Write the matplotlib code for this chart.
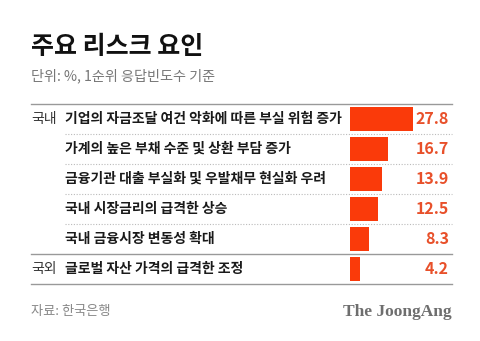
import matplotlib.pyplot as plt
import matplotlib.transforms as mtransforms

plt.rcParams['font.family'] = ['Noto Sans CJK KR', 'DejaVu Sans']

# 데이터
groups = ['국내', '', '', '', '', '국외']
labels = [
    '기업의 자금조달 여건 악화에 따른 부실 위험 증가',
    '가계의 높은 부채 수준 및 상환 부담 증가',
    '금융기관 대출 부실화 및 우발채무 현실화 우려',
    '국내 시장금리의 급격한 상승',
    '국내 금융시장 변동성 확대',
    '글로벌 자산 가격의 급격한 조정',
]
values = [27.8, 16.7, 13.9, 12.5, 8.3, 4.2]

W, H = 480, 341
fig = plt.figure(figsize=(W / 100, H / 100), dpi=100)
fig.patch.set_facecolor('white')

# 막대 영역 (x=350px ~ 452px, y=104px ~ 284px)
ax = fig.add_axes([350 / W, (H - 284) / H, (452 - 350) / W, 180 / H])
ax.set_xlim(0, (452 - 350) / 2.27)
ax.set_ylim(len(values) - 0.5, -0.5)
ax.axis('off')

rows = range(len(values))
ax.barh(rows, values, height=0.8, color='#fa3a0a', zorder=3)

# 행 텍스트
tr = mtransforms.blended_transform_factory(fig.transFigure, ax.transData)
for i, (g, lab, v) in enumerate(zip(groups, labels, values)):
    if g:
        ax.text(31 / W, i, g, transform=tr, ha='left', va='center',
                fontsize=10, color='#333333')
    ax.text(65 / W, i, lab, transform=tr, ha='left', va='center',
            fontsize=10, fontweight='bold', color='#1a1a1a')
    ax.text(449 / W, i, f'{v}', transform=tr, ha='right', va='center',
            fontsize=11.5, fontweight='bold', color='#e8502a')

# 구분선
def hline(y, x0=31, **kw):
    ax.plot([x0 / W, 452 / W], [y, y], transform=tr, clip_on=False, **kw)

hline(-0.5, color='#999999', lw=1)
for y in [0.5, 1.5, 2.5, 3.5]:
    hline(y, x0=65, color='#bbbbbb', lw=0.8, ls=(0, (1, 1.5)))
hline(4.5, color='#999999', lw=1)
hline(5.5, color='#999999', lw=1)

# 제목
fig.text(31 / W, 1 - 47 / H, '주요 리스크 요인', ha='left', va='center',
         fontsize=18, fontweight='bold', color='#111111')
fig.text(31 / W, 1 - 76 / H, '단위: %, 1순위 응답빈도수 기준', ha='left', va='center',
         fontsize=10.2, color='#777777')

# 출처
fig.text(31 / W, 1 - 312 / H, '자료: 한국은행', ha='left', va='center',
         fontsize=9.5, color='#888888')
fig.text(452 / W, 1 - 312 / H, 'The JoongAng', ha='right', va='center',
         fontsize=12.5, fontweight='bold', color='#6e6e6e',
         family='Liberation Serif')

fig.savefig('out.png', dpi=100, facecolor='white')
